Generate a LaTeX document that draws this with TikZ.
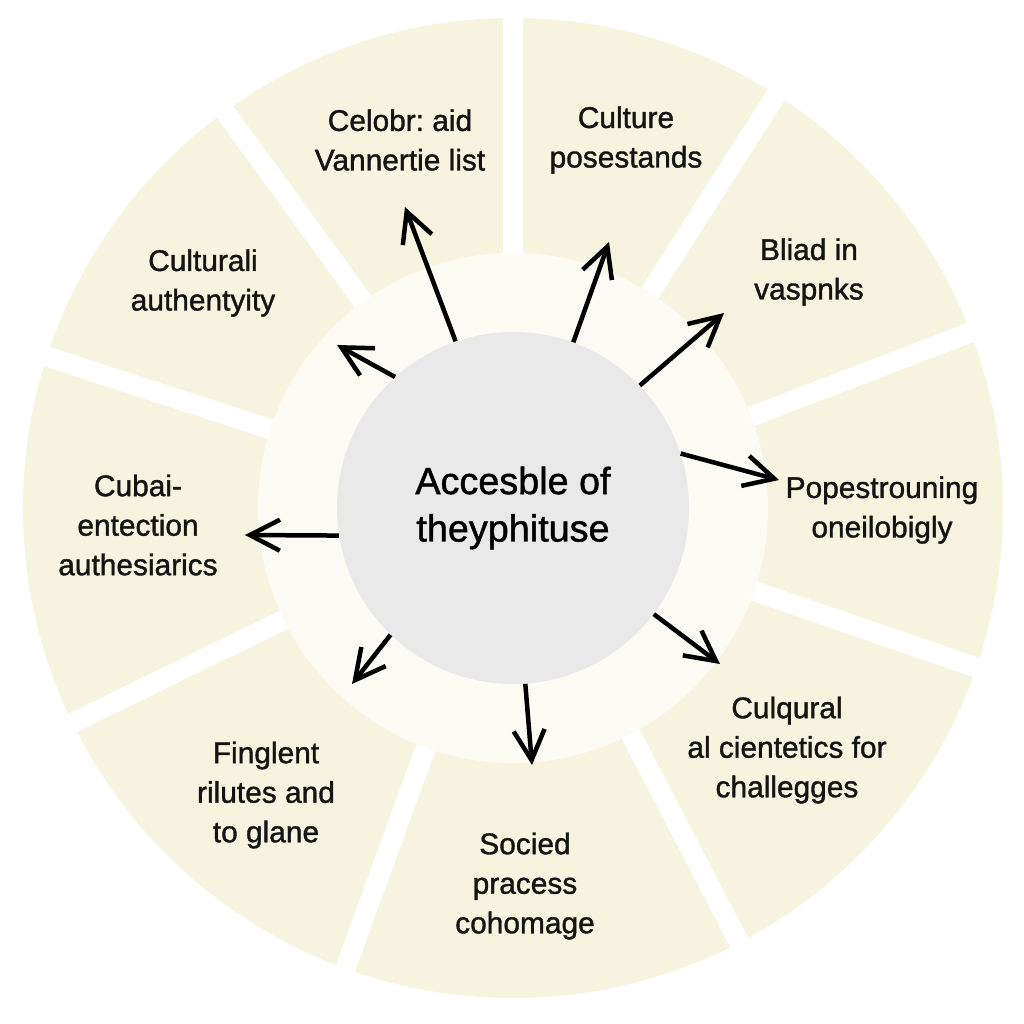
\documentclass[tikz,border=0pt]{standalone}
\usepackage{fontspec}
\setmainfont{Liberation Sans}[FakeBold=1.2]
\frenchspacing
\usetikzlibrary{arrows.meta}
\definecolor{segcream}{RGB}{246,244,222}
\definecolor{ringcream}{RGB}{251,251,243}
\definecolor{hubgrey}{RGB}{232,233,232}
\tikzset{
  seglabel/.style={align=center,font=\fontsize{17}{22.5}\selectfont,text=black!92},
  hub/.style={circle,fill=hubgrey,minimum size=7.04cm,inner sep=0pt,align=center,
    font=\fontsize{21.5}{27}\selectfont},
  gapline/.style={white,line width=0.4cm},
  spoke/.style={->,line width=0.09cm}
}

\begin{document}
\begin{tikzpicture}[x=0.02cm,y=0.02cm,>={Straight Barb[length=0.6cm,width=0.62cm]}]
\def\ro{490}
\def\ri{255}
\useasboundingbox (-513,-516) rectangle (511,508);
% ---- ring of segments ----
\fill[white] (-513,-516) rectangle (511,508);
\fill[segcream] (0,0) circle (\ro);
\foreach \a in {90,57.5,21,-19,-62.5,-110,-154,162,126}{
  \draw[gapline] (\a:200) -- (\a:520);}
\fill[ringcream] (0,0) circle (\ri);
% ---- hub ----
\node[hub] (hub) at (0,0) {Accesble of\\theyphituse};
% ---- labels ----
\node[seglabel] (celobr) at (-113,368) {Celobr: aid\\Vannertie list};
\node[seglabel] (culture) at (113,368) {Culture\\posestands};
\node[seglabel] (bliad) at (296,236) {Bliad in\\vaspnks};
\node[seglabel] (popes) at (369,-2) {Popestrouning\\oneilobigly};
\node[seglabel] (culq) at (274,-242) {Culqural\\al cientetics for\\challegges};
\node[seglabel] (socied) at (12,-378) {Socied\\pracess\\cohomage};
\node[seglabel] (fingl) at (-247,-287) {Finglent\\rilutes and\\to glane};
\node[seglabel] (cubai) at (-375,-17) {Cubai-\\entection\\authesiarics};
\node[seglabel] (cultur) at (-310,225) {Culturali\\authentyity};
% ---- arrows ----
\foreach \n/\a/\x/\y in {celobr/109/-108/301,cultur/132/-176/163,
    culture/70/96/266,bliad/44.5/211/195,popes/18/266/28,
    culq/-37.6/207/-156,socied/-86/19/-257,fingl/-134.7/-161/-176,
    cubai/-171/-268/-27}{
  \coordinate (\n-tip) at (\x,\y);
  \draw[spoke] (hub.\a) -- (\n-tip);}
\end{tikzpicture}
\end{document}
